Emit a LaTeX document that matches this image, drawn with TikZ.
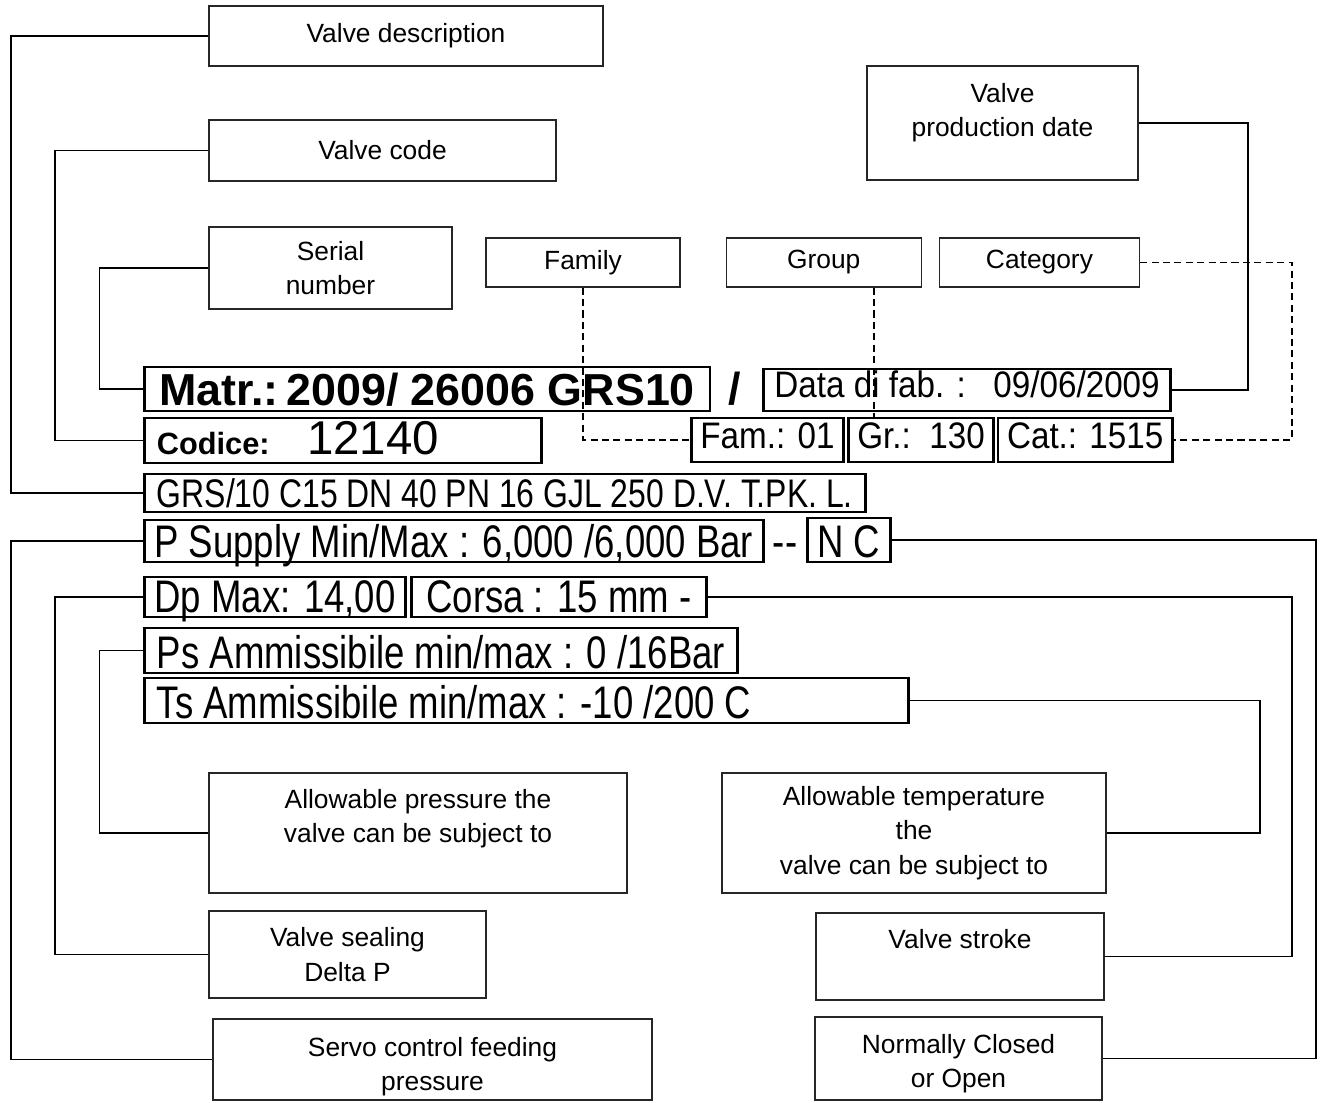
\documentclass[tikz,border=0pt]{standalone}
\usepackage{fontspec}
\setmainfont{Liberation Sans}
\newfontfamily\narrowfont[FakeStretch=0.8]{Liberation Sans}
\newfontfamily\platefont[FakeStretch=0.9]{Liberation Sans}
\usetikzlibrary{positioning}

\begin{document}
\begin{tikzpicture}[
  note/.style={draw=black!85,line width=0.7pt,align=center,inner sep=0pt,font=\fontsize{15}{19.5}\selectfont},
  plate/.style={draw=black,line width=1.6pt,anchor=west,inner xsep=0.25cm,inner ysep=0pt,text depth=0.1cm,text height=#1},
  plate/.default=0.74cm,
  narrowtext/.style={font=\narrowfont\fontsize{26}{30}\selectfont},
  datetext/.style={font=\platefont\fontsize{21}{25}\selectfont,text depth=0.28cm},
  boldtext/.style={font=\fontsize{25.5}{30}\selectfont\bfseries},
  link/.style={line width=0.9pt},
  dashlink/.style={line width=0.9pt,dash pattern=on 4pt off 2.5pt}
]
  \useasboundingbox (0,0) rectangle (26.42,-22.04);
  \node[note,minimum width=7.88cm,minimum height=1.2cm] (desc) at (8.12,-0.72) {Valve description};
  \node[note,minimum width=6.94cm,minimum height=1.22cm] (code) at (7.65,-3.01) {Valve code};
  \node[note,minimum width=4.86cm,minimum height=1.64cm] (serial) at (6.61,-5.36) {Serial\\number};
  \node[note,minimum width=5.42cm,minimum height=2.28cm,text height=1.92cm] (proddate) at (20.05,-2.46) {Valve\\production date\\\mbox{}};
  \node[note,minimum width=3.88cm,minimum height=0.98cm] (family) at (11.66,-5.25) {Family};
  \node[note,minimum width=3.9cm,minimum height=0.98cm,right=0.9cm of family] (group) {Group};
  \node[note,minimum width=4.0cm,minimum height=0.98cm,right=0.34cm of group] (category) {Category};

  \node[plate=0.76cm,inner xsep=0.3cm,boldtext,text depth=0.12cm] (matr) at (2.86,-7.78) {Matr.:\,2009/ 26006 GRS10};
  \node[boldtext,inner sep=0pt,anchor=base] (slash) at (14.7,-8.09) {/};
  \node[plate=0.56cm,inner xsep=0.22cm,datetext] (fab) at (15.24,-7.8) {Data di fab. :\ \ \ 09/06/2009};
  \node[plate=0.72cm,text depth=0.18cm,text width=7.44cm,align=flush left] (codice) at (2.86,-8.81) {\fontsize{17.5}{20}\selectfont\bfseries Codice:\hspace{0.75cm}\fontsize{27}{30}\selectfont\mdseries 12140};
  \node[plate=0.6cm,inner xsep=0.18cm,datetext] (fam) at (13.8,-8.8) {Fam.: 01};
  \node[plate=0.6cm,inner xsep=0.18cm,datetext,right=0.04cm of fam] (gr) {Gr.:\ \ 130};
  \node[plate=0.6cm,inner xsep=0.18cm,datetext,right=0.03cm of gr] (cat) {Cat.: 1515};
  \node[plate=0.66cm,font=\narrowfont\fontsize{22.7}{27}\selectfont] (grs) at (2.86,-9.86) {GRS/10 C15 DN 40 PN 16 GJL 250 D.V. T.PK. L.};
  \node[plate,inner xsep=0.2cm,narrowtext] (psup) at (2.86,-10.82) {P Supply Min/Max : 6,000 /6,000 Bar};
  \node[narrowtext,inner sep=0pt,anchor=base] (dashes) at (15.7,-11.14) {-{}-};
  \node[plate=0.78cm,inner xsep=0.2cm,narrowtext] (nc) at (16.12,-10.8) {N C};
  \node[plate=0.7cm,inner xsep=0.2cm,narrowtext] (dp) at (2.86,-11.94) {Dp Max: 14,00};
  \node[plate=0.7cm,inner xsep=0.3cm,narrowtext,right=0.06cm of dp] (corsa) {Corsa : 15 mm -};
  \node[plate=0.8cm,narrowtext] (ps) at (2.86,-13.01) {Ps Ammissibile min/max : 0 /16Bar};
  \node[plate=0.8cm,narrowtext,text width=14.78cm,align=flush left] (ts) at (2.86,-14.01) {Ts Ammissibile min/max : -10 /200 C};

  \node[note,minimum width=8.36cm,minimum height=2.4cm] (allowp) at (8.36,-16.66) {Allowable pressure the\\valve can be subject to\\\mbox{}};
  \node[note,minimum width=7.68cm,minimum height=2.4cm] (allowt) at (18.28,-16.66) {Allowable temperature\\the\\valve can be subject to};
  \node[note,minimum width=5.54cm,minimum height=1.74cm] (sealing) at (6.95,-19.09) {Valve sealing\\Delta P};
  \node[note,minimum width=5.76cm,minimum height=1.74cm] (stroke) at (19.2,-19.13) {Valve stroke\\\mbox{}};
  \node[note,minimum width=8.78cm,minimum height=1.62cm,text height=1.35cm] (servo) at (8.65,-21.19) {Servo control feeding\\pressure};
  \node[note,minimum width=5.74cm,minimum height=1.66cm,text height=1.27cm] (normal) at (19.17,-21.17) {Normally Closed\\or Open};

  \coordinate (leftA) at (0.22,0);
  \coordinate (leftB) at (1.1,0);
  \coordinate (leftC) at (1.99,0);
  \coordinate (rightA) at (24.96,0);
  \coordinate (rightB) at (25.2,0);
  \coordinate (rightC) at (25.84,0);
  \coordinate (rightD) at (26.32,0);
  \draw[link] (desc.west) -- (desc.west -| leftA) |- (grs.west);
  \draw[link] (code.west) -- (code.west -| leftB) |- (codice.west);
  \draw[link] (serial.west) -- (serial.west -| leftC) |- (matr.west);
  \draw[link] (psup.west) -- (psup.west -| leftA) |- (servo.west);
  \draw[link] (dp.west) -- (dp.west -| leftB) |- (sealing.west);
  \draw[link] (ps.west) -- (ps.west -| leftC) |- (allowp.west);
  \draw[link] (proddate.east) -- (proddate.east -| rightA) |- (fab.east);
  \draw[link] (nc.east) -- (nc.east -| rightD) |- (normal.east);
  \draw[link] (corsa.east) -- (corsa.east -| rightC) |- (stroke.east);
  \draw[link] (ts.east) -- (ts.east -| rightB) |- (allowt.east);
  \draw[dashlink] (family.south) |- (fam.west);
  \draw[dashlink] ([xshift=1cm]group.south) -- ([xshift=1cm]group.south |- gr.north);
  \draw[dashlink] (category.east) -- (category.east -| rightC) |- (cat.east);
\end{tikzpicture}
\end{document}
